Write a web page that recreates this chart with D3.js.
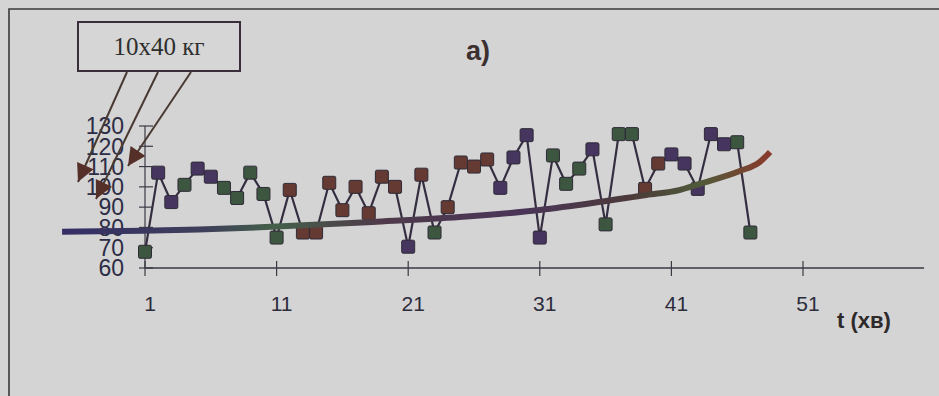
<!DOCTYPE html>
<html>
<head>
<meta charset="utf-8">
<script src="https://cdn.jsdelivr.net/npm/d3@7"></script>
<style>
  html, body { margin: 0; padding: 0; background: #d4d4d5; }
  svg { display: block; }
</style>
</head>
<body>
<div id="chart"></div>
<script>
// pulse readings, one per minute (t = 1..47)
const pulse = [68, 107, 92.5, 101, 109, 105, 99.5, 94.5, 107, 96.5,
  75, 98.5, 77.5, 77.5, 102, 88.5, 100, 87, 105, 100,
  70.5, 106, 77.5, 90, 112, 110, 113.5, 99.5, 114.5, 125.5,
  75, 115.5, 101.5, 109, 118.5, 81.5, 126, 126, 99, 111.5,
  116, 111.5, 99, 126, 121, 122, 77.5];
// scan tint of every marker: p = purple, g = green, b = brown
const tint = "gppgppgggggbbbbbbbbbpbgbbbbppppgggpgggbbpppppgg";

// fitted trend
const trendT = [-5.3, 0.8, 11, 18.3, 24.9, 31, 35, 39.1, 41.6, 43.1, 46.2, 47.7, 48.5];
const trendV = [77.9, 78.4, 80.4, 82.7, 85.1, 88.6, 92, 96, 98.4, 101.4, 107.8, 112.2, 117.2];

const xTicks = [1, 11, 21, 31, 41, 51];
const yTicks = [60, 70, 80, 90, 100, 110, 120, 130];

const W = 939, H = 396;
const tintColor = { p: "#46355e", g: "#3d5640", b: "#643a32" };

const svg = d3.select("#chart").append("svg")
  .attr("width", W).attr("height", H)
  .style("background", "#d4d4d5");

const x = d3.scaleLinear().domain([1, 51]).range([145, 803]);
const y = d3.scaleLinear().domain([60, 130]).range([268, 126]);

// page frame
svg.append("path")
  .attr("d", `M9,${H} V9 H${W}`)
  .attr("fill", "none").attr("stroke", "#3a3838").attr("stroke-width", 1.6);

// title
svg.append("text")
  .attr("x", 478).attr("y", 60)
  .attr("text-anchor", "middle")
  .style("font", "bold 27px 'Liberation Sans', Arial, sans-serif")
  .attr("fill", "#3b2f2f")
  .text("а)");

// axes
const axisColor = "#3a3a44";
svg.append("line")
  .attr("x1", x(1)).attr("x2", x(60.2))
  .attr("y1", y(60)).attr("y2", y(60))
  .attr("stroke", axisColor).attr("stroke-width", 1.4);
svg.append("line")
  .attr("x1", x(1)).attr("x2", x(1))
  .attr("y1", y(60)).attr("y2", y(130))
  .attr("stroke", axisColor).attr("stroke-width", 1.2);

svg.append("g").selectAll("line")
  .data(yTicks)
  .join("line")
  .attr("x1", x(1) - 6).attr("x2", x(1) + 8)
  .attr("y1", d => y(d)).attr("y2", d => y(d))
  .attr("stroke", axisColor).attr("stroke-width", 1.2);

// labels sit tighter than their height, as in the original
svg.append("g").selectAll("text")
  .data(yTicks)
  .join("text")
  .attr("x", 124).attr("y", d => y(d))
  .attr("dy", "0.36em")
  .attr("text-anchor", "end")
  .style("font", "23px 'Liberation Sans', Arial, sans-serif")
  .attr("fill", "#2c2c44")
  .text(d => d);

svg.append("g").selectAll("line")
  .data(xTicks)
  .join("line")
  .attr("x1", d => x(d)).attr("x2", d => x(d))
  .attr("y1", y(60) - 7).attr("y2", y(60) + 8)
  .attr("stroke", axisColor).attr("stroke-width", 1.2);

svg.append("g").selectAll("text")
  .data(xTicks)
  .join("text")
  .attr("x", d => x(d) + 5).attr("y", 303)
  .attr("dy", "0.36em")
  .attr("text-anchor", "middle")
  .style("font", "21px 'Liberation Sans', Arial, sans-serif")
  .attr("fill", "#2c2c3c")
  .text(d => d);

svg.append("text")
  .attr("x", 864).attr("y", 320)
  .attr("dy", "0.36em")
  .attr("text-anchor", "middle")
  .style("font", "bold 22px 'Liberation Sans', Arial, sans-serif")
  .attr("fill", "#2e2a2a")
  .text("t (хв)");

// pulse line and markers
const pts = pulse.map((v, i) => ({ t: i + 1, v, c: tintColor[tint[i]] }));

svg.append("path")
  .datum(pts)
  .attr("fill", "none")
  .attr("stroke", "#352e40")
  .attr("stroke-width", 2.2)
  .attr("d", d3.line().x(d => x(d.t)).y(d => y(d.v)));

const m = 13;
svg.append("g").selectAll("rect")
  .data(pts)
  .join("rect")
  .attr("x", d => x(d.t) - m / 2).attr("y", d => y(d.v) - m / 2)
  .attr("width", m).attr("height", m)
  .attr("rx", 1.5)
  .attr("fill", d => d.c)
  .attr("stroke", "#2e2a36").attr("stroke-width", 1);

// trend curve, tinted like the scan
const defs = svg.append("defs");
const grad = defs.append("linearGradient")
  .attr("id", "trend").attr("gradientUnits", "userSpaceOnUse")
  .attr("x1", x(trendT[0])).attr("x2", x(trendT[trendT.length - 1]))
  .attr("y1", 0).attr("y2", 0);
[[0, "#352e66"], [0.2, "#3e3f5a"], [0.3, "#45604a"], [0.45, "#4e3a4a"],
 [0.65, "#4a3558"], [0.8, "#4c3a3a"], [0.9, "#4f5a3a"], [1, "#8a3a2c"]]
  .forEach(([o, c]) => grad.append("stop").attr("offset", o).attr("stop-color", c));

svg.append("path")
  .datum(trendT.map((t, i) => [t, trendV[i]]))
  .attr("fill", "none")
  .attr("stroke", "url(#trend)")
  .attr("stroke-width", 6)
  .attr("d", d3.line().x(d => x(d[0])).y(d => y(d[1])).curve(d3.curveMonotoneX));

// load annotation box with arrows
const box = { x: 78, y: 22, w: 162, h: 49 };
svg.append("rect")
  .attr("x", box.x).attr("y", box.y)
  .attr("width", box.w).attr("height", box.h)
  .attr("fill", "#d6d6d6")
  .attr("stroke", "#3a2e3a").attr("stroke-width", 2);
svg.append("text")
  .attr("x", box.x + box.w / 2).attr("y", box.y + box.h / 2)
  .attr("dy", "0.35em")
  .attr("text-anchor", "middle")
  .style("font", "25px 'Liberation Serif', 'Times New Roman', serif")
  .attr("fill", "#2e2e2e")
  .text("10x40 кг");

defs.append("marker")
  .attr("id", "head")
  .attr("viewBox", "0 0 10 10")
  .attr("refX", 10).attr("refY", 5)
  .attr("markerWidth", 10).attr("markerHeight", 9)
  .attr("markerUnits", "strokeWidth")
  .attr("orient", "auto")
  .append("path")
  .attr("d", "M0,0 L10,5 L0,10 Z")
  .attr("fill", "#553029");

const arrows = [
  [127, 72, 78, 182],
  [158, 72, 96, 199],
  [191, 72, 128, 166]
];
svg.append("g").selectAll("line")
  .data(arrows)
  .join("line")
  .attr("x1", d => d[0]).attr("y1", d => d[1])
  .attr("x2", d => d[2]).attr("y2", d => d[3])
  .attr("stroke", "#483a32").attr("stroke-width", 2)
  .attr("marker-end", "url(#head)");
</script>
</body>
</html>
